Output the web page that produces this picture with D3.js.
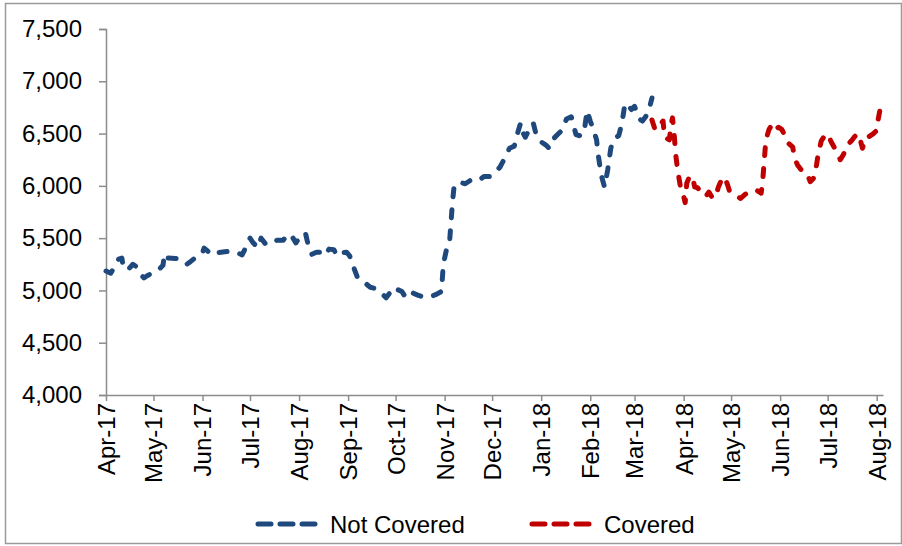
<!DOCTYPE html>
<html>
<head>
<meta charset="utf-8">
<script src="https://cdn.jsdelivr.net/npm/d3@7"></script>
<style>
  body { margin: 0; background: #fff; }
  svg { display: block; font-family: "Liberation Sans", Arial, sans-serif; }
</style>
</head>
<body>
<div id="chart"></div>
<script>
// values
const notCoveredDates = ["2017-04-01","2017-04-04","2017-04-06","2017-04-09","2017-04-11","2017-04-12","2017-04-15","2017-04-18","2017-04-20","2017-04-23","2017-04-25","2017-04-27","2017-04-30","2017-05-04","2017-05-07","2017-05-08","2017-05-10","2017-05-15","2017-05-18","2017-05-22","2017-05-24","2017-05-28","2017-06-01","2017-06-02","2017-06-04","2017-06-07","2017-06-10","2017-06-15","2017-06-19","2017-06-23","2017-06-26","2017-06-28","2017-07-01","2017-07-03","2017-07-06","2017-07-08","2017-07-11","2017-07-15","2017-07-18","2017-07-22","2017-07-25","2017-07-28","2017-07-30","2017-08-01","2017-08-05","2017-08-07","2017-08-09","2017-08-12","2017-08-15","2017-08-17","2017-08-20","2017-08-23","2017-08-25","2017-08-28","2017-08-31","2017-09-02","2017-09-04","2017-09-07","2017-09-11","2017-09-15","2017-09-19","2017-09-22","2017-09-25","2017-09-28","2017-09-30","2017-10-02","2017-10-05","2017-10-07","2017-10-09","2017-10-12","2017-10-15","2017-10-17","2017-10-20","2017-10-24","2017-10-27","2017-10-30","2017-10-31","2017-11-01","2017-11-02","2017-11-04","2017-11-05","2017-11-06","2017-11-07","2017-11-10","2017-11-14","2017-11-17","2017-11-20","2017-11-23","2017-11-26","2017-11-30","2017-12-03","2017-12-06","2017-12-09","2017-12-12","2017-12-15","2017-12-17","2017-12-19","2017-12-20","2017-12-22","2017-12-25","2017-12-27","2017-12-29","2018-01-01","2018-01-04","2018-01-06","2018-01-09","2018-01-12","2018-01-14","2018-01-17","2018-01-20","2018-01-23","2018-01-25","2018-01-28","2018-01-30","2018-02-01","2018-02-03","2018-02-05","2018-02-06","2018-02-08","2018-02-10","2018-02-12","2018-02-14","2018-02-16","2018-02-19","2018-02-21","2018-02-23","2018-02-25","2018-02-27","2018-03-01","2018-03-04","2018-03-06","2018-03-08","2018-03-10","2018-03-12"];
const notCoveredValues = [5185,5165,5215,5300,5310,5215,5200,5250,5230,5150,5120,5140,5165,5195,5240,5350,5310,5305,5300,5250,5270,5320,5360,5405,5380,5340,5360,5370,5375,5360,5340,5400,5500,5455,5410,5500,5440,5455,5480,5480,5540,5505,5455,5500,5550,5420,5345,5365,5365,5335,5395,5390,5330,5360,5365,5330,5240,5120,5080,5030,5015,4975,4930,4990,5030,5010,4990,4940,4985,4975,4955,4945,4935,4945,4965,4990,5215,5310,5380,5440,5650,5850,6000,6035,6020,6050,6040,6060,6090,6090,6130,6180,6265,6360,6380,6500,6600,6520,6465,6560,6600,6480,6420,6390,6360,6455,6500,6530,6640,6660,6490,6480,6500,6720,6620,6540,6440,6300,6100,5990,6150,6360,6450,6480,6600,6790,6770,6730,6760,6640,6620,6660,6720,6840];

const coveredDates = ["2018-03-12","2018-03-14","2018-03-17","2018-03-19","2018-03-20","2018-03-23","2018-03-24","2018-03-25","2018-03-26","2018-03-27","2018-03-28","2018-03-29","2018-03-30","2018-04-01","2018-04-02","2018-04-03","2018-04-05","2018-04-07","2018-04-08","2018-04-10","2018-04-12","2018-04-15","2018-04-17","2018-04-19","2018-04-21","2018-04-23","2018-04-25","2018-04-27","2018-04-29","2018-04-30","2018-05-02","2018-05-05","2018-05-07","2018-05-10","2018-05-12","2018-05-15","2018-05-17","2018-05-20","2018-05-21","2018-05-22","2018-05-23","2018-05-25","2018-05-27","2018-05-29","2018-05-31","2018-06-02","2018-06-04","2018-06-06","2018-06-09","2018-06-10","2018-06-12","2018-06-15","2018-06-18","2018-06-20","2018-06-22","2018-06-24","2018-06-25","2018-06-27","2018-06-30","2018-07-02","2018-07-04","2018-07-07","2018-07-09","2018-07-11","2018-07-14","2018-07-16","2018-07-18","2018-07-20","2018-07-22","2018-07-23","2018-07-25","2018-07-27","2018-07-30","2018-08-01","2018-08-02","2018-08-03","2018-08-05"];
const coveredValues = [6630,6535,6580,6620,6465,6440,6580,6650,6500,6300,6180,6080,5990,5900,5840,6025,6100,6060,5990,5980,5930,5900,5940,5890,5885,5990,6060,6085,6000,5950,5920,5895,5880,5920,5935,5945,5960,5930,6050,6250,6440,6540,6590,6540,6560,6540,6480,6410,6370,6270,6200,6140,6120,6040,6070,6200,6300,6430,6500,6460,6400,6320,6250,6300,6400,6430,6470,6500,6420,6360,6460,6470,6500,6530,6640,6720,6760];

const yTicks = [4000, 4500, 5000, 5500, 6000, 6500, 7000, 7500];
const seriesNames = ["Not Covered", "Covered"];
const seriesColors = ["#1F497D", "#C00000"];

const width = 902, height = 546;
const margin = {top: 29, right: 19, bottom: 151, left: 106};

const parse = d3.timeParse("%Y-%m-%d");

const svg = d3.select("#chart")
  .append("svg")
    .attr("width", width)
    .attr("height", height);

// outer frame
svg.append("rect")
  .attr("x", 5.5).attr("y", 3.5)
  .attr("width", 896).attr("height", 540)
  .attr("fill", "none")
  .attr("stroke", "#9a9a9a")
  .attr("stroke-width", 1.5);

const x = d3.scaleTime()
  .domain([parse("2017-04-01"), parse("2018-08-05")])
  .range([margin.left, width - margin.right]);

const y = d3.scaleLinear()
  .domain([4000, 7500])
  .range([height - margin.bottom, margin.top]);

// y axis
const yAxis = svg.append("g")
  .attr("transform", `translate(${margin.left},0)`)
  .call(d3.axisLeft(y).tickValues(yTicks).tickFormat(d3.format(",")).tickSize(7).tickPadding(17));
yAxis.selectAll("text").attr("font-size", 24).attr("fill", "#000").style("font-family", "Liberation Sans, Arial, sans-serif");

// x axis
const xAxis = svg.append("g")
  .attr("transform", `translate(0,${height - margin.bottom})`)
  .call(d3.axisBottom(x).ticks(d3.timeMonth.every(1)).tickFormat(d3.timeFormat("%b-%y")).tickSize(6).tickSizeOuter(0));
xAxis.selectAll("text")
  .attr("font-size", 24)
  .attr("fill", "#000")
  .style("font-family", "Liberation Sans, Arial, sans-serif")
  .attr("text-anchor", "end")
  .attr("transform", "rotate(-90)")
  .attr("x", -8)
  .attr("y", 0)
  .attr("dy", "0.35em");

svg.selectAll(".domain, .tick line")
  .attr("stroke", "#8c8c8c")
  .attr("stroke-width", 1.5);

// lines
const line = d3.line()
  .x(d => x(d.date))
  .y(d => y(d.value));

const series = [
  notCoveredDates.map((d, i) => ({date: parse(d), value: notCoveredValues[i]})),
  coveredDates.map((d, i) => ({date: parse(d), value: coveredValues[i]}))
];

series.forEach(function(s, i) {
  svg.append("path")
    .datum(s)
    .attr("fill", "none")
    .attr("stroke", seriesColors[i])
    .attr("stroke-width", 5)
    .attr("stroke-linecap", "round")
    .attr("stroke-linejoin", "round")
    .attr("stroke-dasharray", "8 13")
    .attr("d", line);
});

// legend
const legendX = [255, 529];
seriesNames.forEach(function(name, i) {
  const g = svg.append("g").attr("transform", `translate(${legendX[i]},524)`);
  g.append("line")
    .attr("x1", 3).attr("x2", 60)
    .attr("stroke", seriesColors[i])
    .attr("stroke-width", 5)
    .attr("stroke-linecap", "round")
    .attr("stroke-dasharray", "13 9");
  g.append("text")
    .attr("x", 75)
    .attr("dy", "0.36em")
    .attr("font-size", 24)
    .attr("fill", "#000")
    .text(name);
});
</script>
</body>
</html>
